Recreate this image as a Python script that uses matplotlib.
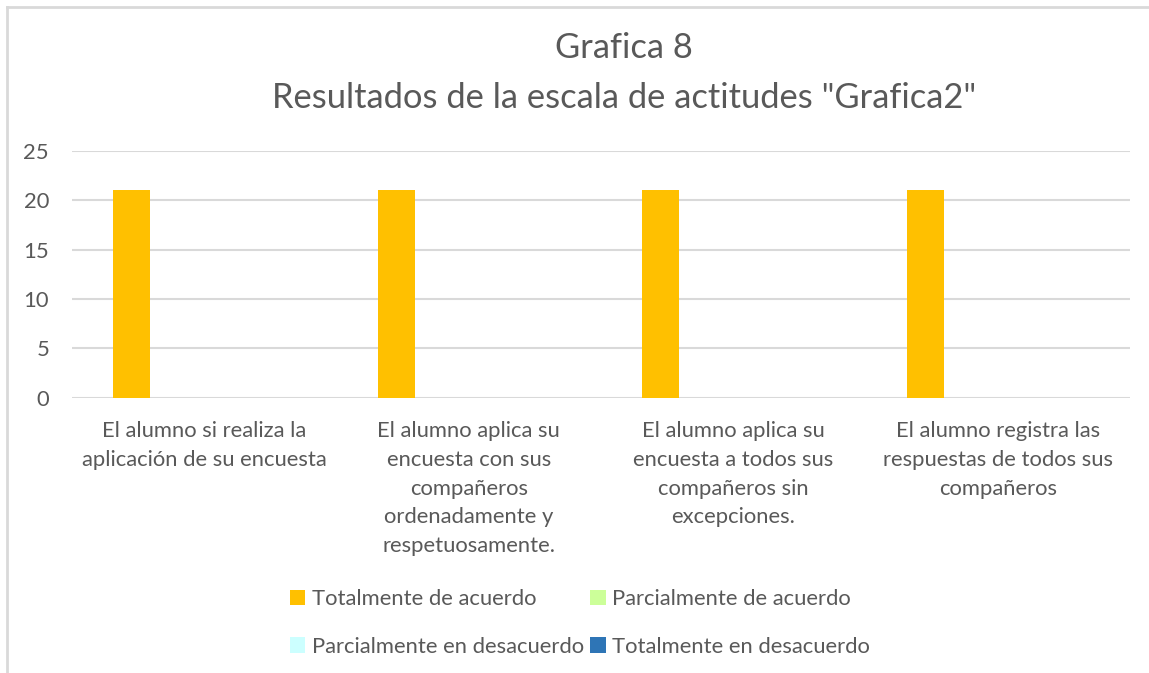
import numpy as np
import matplotlib.pyplot as plt
from matplotlib.lines import Line2D

plt.rcParams['font.family'] = ['Lato', 'DejaVu Sans']

categories = [
    "El alumno si realiza la\naplicación de su encuesta",
    "El alumno aplica su\nencuesta con sus\ncompañeros\nordenadamente y\nrespetuosamente.",
    "El alumno aplica su\nencuesta a todos sus\ncompañeros sin\nexcepciones.",
    "El alumno registra las\nrespuestas de todos sus\ncompañeros",
]
series_names = ["Totalmente de acuerdo", "Parcialmente de acuerdo",
                "Parcialmente en desacuerdo", "Totalmente en desacuerdo"]
totalmente_acuerdo = [21, 21, 21, 21]
parcialmente_acuerdo = [0, 0, 0, 0]
parcialmente_desacuerdo = [0, 0, 0, 0]
totalmente_desacuerdo = [0, 0, 0, 0]
yticks = [0, 5, 10, 15, 20, 25]

colors = ["#FFC000", "#CCFF99", "#CCFFFF", "#2E75B6"]
text_col = "#595959"
grid_col = "#D9D9D9"
fs = 15.8

W, H = 1149, 673
fig = plt.figure(figsize=(W / 100, H / 100), dpi=100)
ax = fig.add_axes([72 / W, (H - 397.7) / H, 1058 / W, 246.7 / H])

x = np.arange(len(categories))
bw = 0.14
gap = 0.0427
start = -0.5 + 0.156 + bw / 2
data = [totalmente_acuerdo, parcialmente_acuerdo, parcialmente_desacuerdo, totalmente_desacuerdo]
handles = []
for k, (vals, name, c) in enumerate(zip(data, series_names, colors)):
    h = ax.bar(x + start + k * (bw + gap), vals, width=bw, color=c, label=name, zorder=3)
    handles.append(h)

ax.set_xlim(-0.5, len(categories) - 0.5)
ax.set_ylim(0, 25)
ax.set_yticks(yticks)
ax.yaxis.grid(True, color=grid_col, linewidth=1.5, zorder=0)
ax.set_axisbelow(True)
for s in ax.spines.values():
    s.set_visible(False)
ax.tick_params(axis='both', length=0, colors=text_col, labelsize=fs)
ax.tick_params(axis='y', pad=16.5)
ax.set_xticks(x)
ax.set_xticklabels(categories, linespacing=1.56)
ax.tick_params(axis='x', pad=16.5)

fig.text(624 / W, 1 - 48 / H, "Grafica 8", ha='center', va='center', fontsize=24.8, color=text_col)
fig.text(624 / W, 1 - 98 / H, 'Resultados de la escala de actitudes "Grafica2"',
         ha='center', va='center', fontsize=24.8, color=text_col)

# Excel fills the legend row by row
order = [0, 2, 1, 3]
leg = fig.legend([handles[i] for i in order], [series_names[i] for i in order],
                 loc='center', bbox_to_anchor=(580 / W, 1 - 623 / H), ncol=2, frameon=False,
                 fontsize=fs, handlelength=0.7, handleheight=0.7, handletextpad=0.3,
                 columnspacing=0.3, labelspacing=1.25, labelcolor=text_col)

fig.add_artist(Line2D([7 / W, 1], [1 - 7 / H, 1 - 7 / H], color=grid_col, lw=2))
fig.add_artist(Line2D([7 / W, 7 / W], [0, 1 - 7 / H], color=grid_col, lw=2))

fig.savefig("out.png", dpi=100)
